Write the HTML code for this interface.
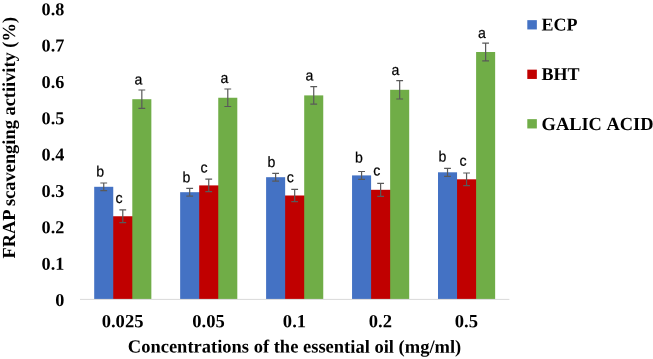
<!DOCTYPE html>
<html><head><meta charset="utf-8"><title>Chart</title>
<style>
html,body{margin:0;padding:0;background:#fff;}
svg{display:block;}
text{filter:grayscale(1);text-rendering:geometricPrecision;}
.t{font-family:"Liberation Serif",serif;font-weight:bold;font-size:18.5px;fill:#000;}
.k{font-size:18.2px;}
.x{font-size:18.6px;}
.g{font-size:18.1px;}
.l{font-family:"Liberation Sans",sans-serif;font-size:15px;fill:#000;stroke:#000;stroke-width:0.22px;}
</style></head><body>
<svg width="653" height="359" viewBox="0 0 653 359">
<rect width="653" height="359" fill="#fff"/>
<rect x="112.25" y="216.25" width="21.05" height="82.75" fill="#C00000"/>
<rect x="94.20" y="186.80" width="19.05" height="112.20" fill="#4472C4"/>
<rect x="132.30" y="99.20" width="19.05" height="199.80" fill="#70AD47"/>
<rect x="180.15" y="192.20" width="20.05" height="106.80" fill="#4472C4"/>
<rect x="199.20" y="185.40" width="20.05" height="113.60" fill="#C00000"/>
<rect x="218.25" y="97.75" width="19.05" height="201.25" fill="#70AD47"/>
<rect x="284.15" y="195.50" width="21.05" height="103.50" fill="#C00000"/>
<rect x="266.10" y="177.20" width="19.05" height="121.80" fill="#4472C4"/>
<rect x="304.20" y="95.40" width="19.05" height="203.60" fill="#70AD47"/>
<rect x="370.10" y="189.80" width="21.05" height="109.20" fill="#C00000"/>
<rect x="352.05" y="175.40" width="19.05" height="123.60" fill="#4472C4"/>
<rect x="390.15" y="89.80" width="19.05" height="209.20" fill="#70AD47"/>
<rect x="456.05" y="179.30" width="21.05" height="119.70" fill="#C00000"/>
<rect x="438.00" y="172.30" width="19.05" height="126.70" fill="#4472C4"/>
<rect x="476.10" y="52.00" width="19.05" height="247.00" fill="#70AD47"/>
<line x1="80.0" y1="299.4" x2="509.4" y2="299.4" stroke="#D9D9D9" stroke-width="1"/>
<path d="M103.73 183.00V190.60M100.33 183.00H107.13M100.33 190.60H107.13" stroke="#595959" stroke-width="1.2" fill="none"/>
<text transform="translate(100.10,176.60) scale(0.94,1) rotate(0.03)" text-anchor="middle" class="l">b</text>
<path d="M122.78 209.95V222.55M119.38 209.95H126.18M119.38 222.55H126.18" stroke="#595959" stroke-width="1.2" fill="none"/>
<text transform="translate(119.10,203.00) scale(0.94,1) rotate(0.03)" text-anchor="middle" class="l">c</text>
<path d="M141.83 90.00V108.40M138.43 90.00H145.23M138.43 108.40H145.23" stroke="#595959" stroke-width="1.2" fill="none"/>
<text transform="translate(138.30,84.50) scale(0.94,1) rotate(0.03)" text-anchor="middle" class="l">a</text>
<path d="M189.68 188.30V196.10M186.28 188.30H193.08M186.28 196.10H193.08" stroke="#595959" stroke-width="1.2" fill="none"/>
<text transform="translate(186.45,182.30) scale(0.94,1) rotate(0.03)" text-anchor="middle" class="l">b</text>
<path d="M208.73 179.10V191.70M205.33 179.10H212.13M205.33 191.70H212.13" stroke="#595959" stroke-width="1.2" fill="none"/>
<text transform="translate(204.10,172.60) scale(0.94,1) rotate(0.03)" text-anchor="middle" class="l">c</text>
<path d="M227.78 89.00V106.50M224.38 89.00H231.18M224.38 106.50H231.18" stroke="#595959" stroke-width="1.2" fill="none"/>
<text transform="translate(224.45,82.90) scale(0.94,1) rotate(0.03)" text-anchor="middle" class="l">a</text>
<path d="M275.62 173.35V181.05M272.23 173.35H279.02M272.23 181.05H279.02" stroke="#595959" stroke-width="1.2" fill="none"/>
<text transform="translate(271.40,166.90) scale(0.94,1) rotate(0.03)" text-anchor="middle" class="l">b</text>
<path d="M294.68 189.40V201.60M291.28 189.40H298.07M291.28 201.60H298.07" stroke="#595959" stroke-width="1.2" fill="none"/>
<text transform="translate(290.30,182.20) scale(0.94,1) rotate(0.03)" text-anchor="middle" class="l">c</text>
<path d="M313.73 86.60V104.20M310.33 86.60H317.12M310.33 104.20H317.12" stroke="#595959" stroke-width="1.2" fill="none"/>
<text transform="translate(309.40,80.40) scale(0.94,1) rotate(0.03)" text-anchor="middle" class="l">a</text>
<path d="M361.57 171.50V179.30M358.18 171.50H364.97M358.18 179.30H364.97" stroke="#595959" stroke-width="1.2" fill="none"/>
<text transform="translate(358.85,162.60) scale(0.94,1) rotate(0.03)" text-anchor="middle" class="l">b</text>
<path d="M380.62 183.30V196.30M377.23 183.30H384.02M377.23 196.30H384.02" stroke="#595959" stroke-width="1.2" fill="none"/>
<text transform="translate(376.80,175.40) scale(0.94,1) rotate(0.03)" text-anchor="middle" class="l">c</text>
<path d="M399.68 80.60V99.00M396.28 80.60H403.07M396.28 99.00H403.07" stroke="#595959" stroke-width="1.2" fill="none"/>
<text transform="translate(395.50,74.90) scale(0.94,1) rotate(0.03)" text-anchor="middle" class="l">a</text>
<path d="M447.52 168.30V176.30M444.12 168.30H450.92M444.12 176.30H450.92" stroke="#595959" stroke-width="1.2" fill="none"/>
<text transform="translate(442.40,161.50) scale(0.94,1) rotate(0.03)" text-anchor="middle" class="l">b</text>
<path d="M466.57 173.00V185.60M463.18 173.00H469.97M463.18 185.60H469.97" stroke="#595959" stroke-width="1.2" fill="none"/>
<text transform="translate(463.10,165.80) scale(0.94,1) rotate(0.03)" text-anchor="middle" class="l">c</text>
<path d="M485.62 43.20V60.80M482.23 43.20H489.02M482.23 60.80H489.02" stroke="#595959" stroke-width="1.2" fill="none"/>
<text transform="translate(482.00,37.90) scale(0.94,1) rotate(0.03)" text-anchor="middle" class="l">a</text>
<text transform="translate(64.3,306.00) rotate(0.03)" text-anchor="end" class="t k">0</text>
<text transform="translate(64.3,269.65) rotate(0.03)" text-anchor="end" class="t k">0.1</text>
<text transform="translate(64.3,233.30) rotate(0.03)" text-anchor="end" class="t k">0.2</text>
<text transform="translate(64.3,196.95) rotate(0.03)" text-anchor="end" class="t k">0.3</text>
<text transform="translate(64.3,160.60) rotate(0.03)" text-anchor="end" class="t k">0.4</text>
<text transform="translate(64.3,124.25) rotate(0.03)" text-anchor="end" class="t k">0.5</text>
<text transform="translate(64.3,87.90) rotate(0.03)" text-anchor="end" class="t k">0.6</text>
<text transform="translate(64.3,51.55) rotate(0.03)" text-anchor="end" class="t k">0.7</text>
<text transform="translate(64.3,15.20) rotate(0.03)" text-anchor="end" class="t k">0.8</text>
<text transform="translate(122.58,327.3) rotate(0.03)" text-anchor="middle" class="t x">0.025</text>
<text transform="translate(208.53,327.3) rotate(0.03)" text-anchor="middle" class="t x">0.05</text>
<text transform="translate(294.48,327.3) rotate(0.03)" text-anchor="middle" class="t x">0.1</text>
<text transform="translate(380.43,327.3) rotate(0.03)" text-anchor="middle" class="t x">0.2</text>
<text transform="translate(466.38,327.3) rotate(0.03)" text-anchor="middle" class="t x">0.5</text>
<text transform="translate(294.5,352.6) rotate(0.03)" text-anchor="middle" class="t">Concentrations of the essential oil (mg/ml)</text>
<text transform="translate(15.2,137.8) rotate(-90)" text-anchor="middle" class="t" style="font-size:18.4px">FRAP scavenging actiivity (%)</text>
<rect x="527.3" y="20.15" width="9.55" height="9.3" fill="#4472C4"/>
<text transform="translate(541.6,30.60) rotate(0.03)" class="t" style="font-size:18.0px;font-kerning:none">ECP</text>
<rect x="527.3" y="69.65" width="9.55" height="9.3" fill="#C00000"/>
<text transform="translate(541.6,80.00) rotate(0.03)" class="t" style="font-size:18.0px;font-kerning:none">BHT</text>
<rect x="527.3" y="119.15" width="9.55" height="9.3" fill="#70AD47"/>
<text transform="translate(541.6,129.90) rotate(0.03)" class="t" style="font-size:18.4px;font-kerning:none">GALIC ACID</text>
</svg>
</body></html>
